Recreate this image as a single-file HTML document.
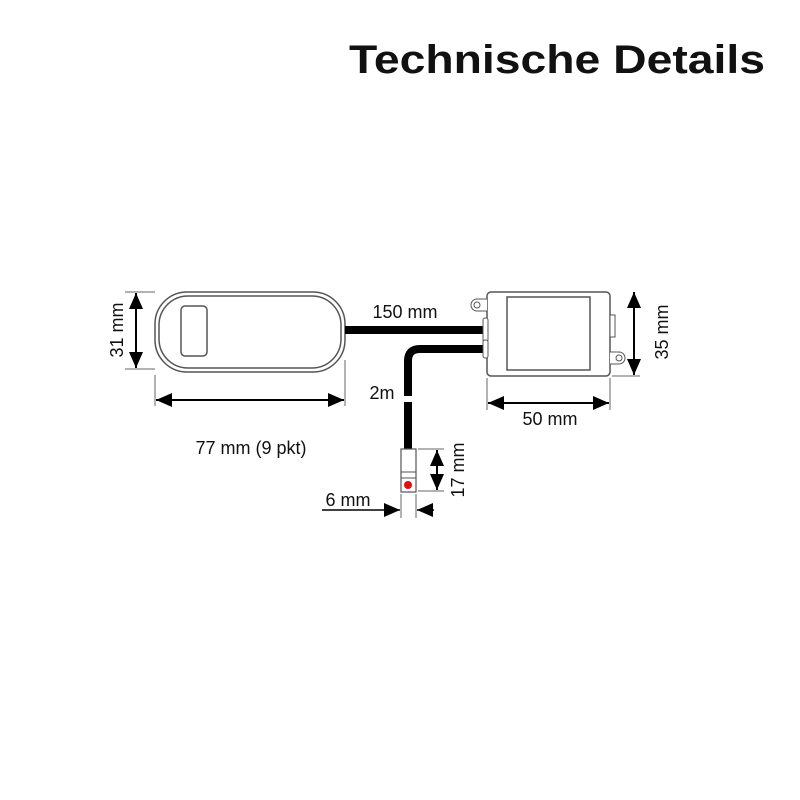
<!DOCTYPE html>
<html><head><style>
html,body{margin:0;padding:0;background:#fff;}
svg{display:block;}
text{font-family:"Liberation Sans","DejaVu Sans",sans-serif;fill:#111;}
</style></head><body>
<svg width="800" height="800" viewBox="0 0 800 800" xmlns="http://www.w3.org/2000/svg">
<defs>
<marker id="a" viewBox="0 0 16 14" refX="16" refY="7" markerWidth="16" markerHeight="14" markerUnits="userSpaceOnUse" orient="auto-start-reverse"><path d="M0,0 L16,7 L0,14z" fill="#000"/></marker>
</defs>
<text x="349" y="73" font-size="40" font-weight="bold" textLength="416" lengthAdjust="spacingAndGlyphs">Technische Details</text>

<!-- remote -->
<rect x="155" y="292" width="190" height="80" rx="32" fill="none" stroke="#555" stroke-width="1.5"/>
<rect x="159" y="296" width="182" height="72" rx="29" fill="none" stroke="#555" stroke-width="1.5"/>
<rect x="181" y="306" width="26" height="50" rx="4" fill="none" stroke="#555" stroke-width="1.5"/>
<line x1="125" y1="292" x2="155" y2="292" stroke="#666"/>
<line x1="125" y1="369" x2="155" y2="369" stroke="#666"/>
<line x1="136" y1="293" x2="136" y2="368" stroke="#000" stroke-width="2" marker-start="url(#a)" marker-end="url(#a)"/>
<text transform="translate(123,330) rotate(-90)" text-anchor="middle" font-size="18">31 mm</text>
<line x1="155" y1="375" x2="155" y2="406" stroke="#666"/>
<line x1="345" y1="360" x2="345" y2="406" stroke="#666"/>
<line x1="156" y1="400" x2="344" y2="400" stroke="#000" stroke-width="2" marker-start="url(#a)" marker-end="url(#a)"/>
<text x="251" y="454" text-anchor="middle" font-size="18">77 mm (9 pkt)</text>

<!-- cables -->
<line x1="345" y1="330" x2="484" y2="330" stroke="#000" stroke-width="8"/>
<path d="M484,349 L420,349 Q408,349 408,361 L408,396" fill="none" stroke="#000" stroke-width="8"/>
<line x1="408" y1="402" x2="408" y2="450" stroke="#000" stroke-width="8"/>
<text x="405" y="318" text-anchor="middle" font-size="18">150 mm</text>
<text x="382" y="399" text-anchor="middle" font-size="18">2m</text>

<!-- right box -->
<rect x="487" y="292" width="123" height="84" rx="4" fill="#fff" stroke="#555" stroke-width="1.5"/>
<rect x="507" y="297" width="83" height="73" fill="none" stroke="#555" stroke-width="1.5"/>
<rect x="483" y="318" width="5" height="24" rx="2" fill="#fff" stroke="#555"/>
<rect x="483" y="340" width="5" height="18" rx="2" fill="#fff" stroke="#555"/>
<rect x="610" y="315" width="5" height="22" fill="#fff" stroke="#555"/>
<path d="M487,299 L477,299 A6,6 0 0 0 477,311 L487,311" fill="#fff" stroke="#555"/>
<circle cx="477" cy="305" r="3" fill="none" stroke="#555"/>
<path d="M610,352 L619,352 A6,6 0 0 1 619,364 L610,364" fill="#fff" stroke="#555"/>
<circle cx="619" cy="358" r="3" fill="none" stroke="#555"/>
<line x1="612" y1="376" x2="640" y2="376" stroke="#666"/>
<line x1="634" y1="292" x2="634" y2="375" stroke="#000" stroke-width="2" marker-start="url(#a)" marker-end="url(#a)"/>
<text transform="translate(668,332) rotate(-90)" text-anchor="middle" font-size="18">35 mm</text>
<line x1="487" y1="378" x2="487" y2="410" stroke="#666"/>
<line x1="610" y1="378" x2="610" y2="410" stroke="#666"/>
<line x1="488" y1="403" x2="609" y2="403" stroke="#000" stroke-width="2" marker-start="url(#a)" marker-end="url(#a)"/>
<text x="550" y="425" text-anchor="middle" font-size="18">50 mm</text>

<!-- plug -->
<rect x="401" y="449" width="15" height="43" fill="#fff" stroke="#555" stroke-width="1.2"/>
<line x1="401" y1="472" x2="416" y2="472" stroke="#555"/>
<line x1="401" y1="478" x2="416" y2="478" stroke="#555"/>
<circle cx="408" cy="485" r="4" fill="#e01010"/>
<line x1="418" y1="449" x2="444" y2="449" stroke="#666"/>
<line x1="418" y1="491" x2="444" y2="491" stroke="#666"/>
<line x1="437" y1="450" x2="437" y2="490" stroke="#000" stroke-width="2" marker-start="url(#a)" marker-end="url(#a)"/>
<text transform="translate(464,470) rotate(-90)" text-anchor="middle" font-size="18">17 mm</text>
<line x1="401" y1="494" x2="401" y2="518" stroke="#666"/>
<line x1="416" y1="494" x2="416" y2="518" stroke="#666"/>
<line x1="322" y1="510" x2="400" y2="510" stroke="#000" stroke-width="1.5" marker-end="url(#a)"/>
<line x1="434" y1="510" x2="417" y2="510" stroke="#000" stroke-width="1.5" marker-end="url(#a)"/>
<text x="348" y="506" text-anchor="middle" font-size="18">6 mm</text>
</svg>
</body></html>
